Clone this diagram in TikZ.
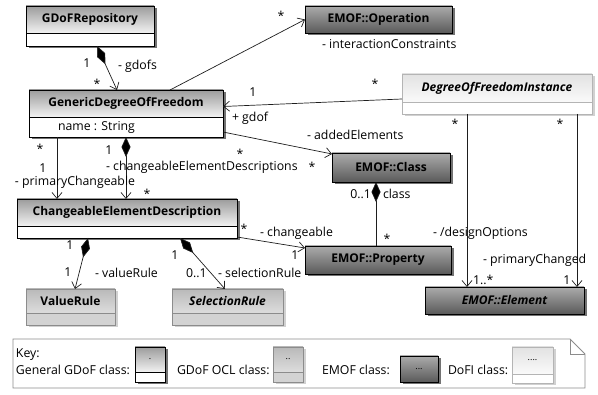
\documentclass[tikz,border=0pt]{standalone}
\usepackage{fontspec}
\setmainfont{Open Sans}
\usetikzlibrary{arrows.meta,shadows}

\definecolor{genTop}{HTML}{9C9C9C}
\definecolor{genBot}{HTML}{F2F2F2}
\definecolor{emofTop}{HTML}{ABABAB}
\definecolor{emofBot}{HTML}{5A5A5A}
\definecolor{oclTop}{HTML}{B9B9B9}
\definecolor{oclBot}{HTML}{DDDDDD}
\definecolor{oclComp}{HTML}{D3D3D3}
\definecolor{oclLine}{HTML}{8C8C8C}
\definecolor{dofiTop}{HTML}{E2E2E2}
\definecolor{dofiBot}{HTML}{FAFAFA}
\definecolor{dofiLine}{HTML}{B4B4B4}
\definecolor{keyLine}{HTML}{8C8C8C}
\definecolor{wire}{HTML}{1E1E1E}

\tikzset{
  every node/.style={inner sep=0pt, outer sep=0pt},
  txt/.style={font=\fontsize{12}{14}\selectfont},
  cname/.style={font=\fontsize{12}{14}\selectfont\bfseries},
  iname/.style={font=\fontsize{12}{14}\selectfont\bfseries\itshape},
  darkshadow/.style={drop shadow={shadow xshift=2.5pt, shadow yshift=-2.5pt, fill=black!55, opacity=1}},
  lightshadow/.style={drop shadow={shadow xshift=2.5pt, shadow yshift=-2.5pt, fill=black!18, opacity=1}},
  boxbase/.style={anchor=north west, line width=0.8pt},
  genhead/.style={boxbase, cname, draw=black, top color=genTop, bottom color=genBot, darkshadow},
  gencomp/.style={boxbase, draw=black, fill=white, darkshadow},
  emofhead/.style={boxbase, cname, draw=black, top color=emofTop, bottom color=emofBot, darkshadow},
  oclhead/.style={boxbase, cname, draw=oclLine, top color=oclTop, bottom color=oclBot, lightshadow},
  oclcomp/.style={boxbase, draw=oclLine, fill=oclComp, lightshadow},
  dofihead/.style={boxbase, iname, draw=dofiLine, top color=dofiTop, bottom color=dofiBot, lightshadow},
  doficomp/.style={boxbase, draw=dofiLine, fill=white, lightshadow},
  assoc/.style={draw=wire, line width=0.7pt, -{Straight Barb[length=6pt,width=10pt,line width=0.7pt]}},
  compo/.style={draw=wire, line width=0.7pt, {Diamond[length=20pt,width=9pt,fill=black]}-{Straight Barb[length=6pt,width=10pt,line width=0.7pt]}},
  compoplain/.style={draw=wire, line width=0.7pt, {Diamond[length=20pt,width=9pt,fill=black]}-},
  lab/.style={font=\fontsize{12.3}{14}\selectfont},
  star/.style={lab},
}

\begin{document}
\begin{tikzpicture}[x=1pt, y=-1pt]
\useasboundingbox (0,0) rectangle (598,395);

% ---------- classes ----------
\node[genhead, minimum width=128pt, minimum height=27pt] (repo) at (26,6) {GDoFRepository};
\node[gencomp, minimum width=128pt, minimum height=13pt] (repoC) at (repo.south west) {};

\node[genhead, minimum width=194pt, minimum height=27pt] (gdof) at (29,90) {GenericDegreeOfFreedom};
\node[gencomp, minimum width=194pt, minimum height=20pt] (gdofC) at (gdof.south west) {};
\node[lab, anchor=west] (gdofAttr) at (58,127) {name : String};

\node[emofhead, minimum width=147pt, minimum height=27pt] (op) at (305,6) {EMOF::Operation};

\node[dofihead, minimum width=190pt, minimum height=28pt] (dofi) at (402,74) {DegreeOfFreedomInstance};
\node[doficomp, minimum width=190pt, minimum height=12pt] (dofiC) at (dofi.south west) {};

\node[emofhead, minimum width=118pt, minimum height=29pt] (cls) at (332,153) {EMOF::Class};

\node[genhead, minimum width=220pt, minimum height=27pt] (ced) at (17,199) {ChangeableElementDescription};
\node[gencomp, minimum width=220pt, minimum height=12pt] (cedC) at (ced.south west) {};

\node[emofhead, minimum width=146pt, minimum height=28pt] (prop) at (305,246) {EMOF::Property};

\node[oclhead, minimum width=89pt, minimum height=24pt] (vr) at (26,289) {ValueRule};
\node[oclcomp, minimum width=89pt, minimum height=12pt] (vrC) at (vr.south west) {};

\node[oclhead, iname, minimum width=111pt, minimum height=24pt] (sr) at (172,289) {SelectionRule};
\node[oclcomp, minimum width=111pt, minimum height=12pt] (srC) at (sr.south west) {};

\node[emofhead, iname, minimum width=159pt, minimum height=27pt] (elem) at (425,287) {EMOF::Element};

% ---------- connectors ----------
\draw[compo] ([xshift=71pt]repoC.south west) -- ([xshift=88pt]gdof.north west);
\draw[assoc] ([xshift=141pt]gdof.north west) -- (op.west);
\draw[assoc] ([yshift=3pt]dofi.south west) -- ([yshift=-3pt]gdof.east);
\draw[assoc] ([yshift=-5pt]gdofC.east) -- ([yshift=-1pt]cls.north west);
\draw[compoplain] ([xshift=44pt]cls.south west) -- ([xshift=71pt]prop.north west);
\draw[assoc] ([xshift=28pt]gdofC.south west) -- ([xshift=40pt]ced.north west);
\draw[compo] ([xshift=97pt]gdofC.south west) -- ([xshift=109pt]ced.north west);
\draw[assoc] ([yshift=1pt]cedC.south east) -- ([yshift=-2pt]prop.north west);
\draw[compo] ([xshift=71pt]cedC.south west) -- ([xshift=49pt]vr.north west);
\draw[compo] ([xshift=163pt]cedC.south west) -- ([xshift=53pt]sr.north west);
\draw[assoc] ([xshift=65pt]dofiC.south west) -- ([xshift=42pt]elem.north west);
\draw[assoc] ([xshift=175pt]dofiC.south west) -- ([xshift=152pt]elem.north west);

% ---------- association end labels ----------
\node[lab] (m1) at (87,63) {1};
\node[lab, anchor=west] (r1) at (118,66) {- gdofs};
\node[star] (m2) at (97,84) {*};

\node[star] (m3) at (281,16) {*};
\node[lab, anchor=west] (r2) at (322,44) {- interactionConstraints};

\node[lab] (m4) at (253,92) {1};
\node[lab, anchor=west] (r3) at (232,118) {+ gdof};
\node[star] (m5) at (375,84) {*};

\node[lab, anchor=west] (r4) at (307,135) {- addedElements};
\node[star] (m6) at (240,154) {*};
\node[star] (m7) at (312,167) {*};

\node[lab, anchor=east] (m8) at (371,194) {0..1};
\node[lab, anchor=west] (r5) at (383,194) {class};
\node[star] (m9) at (387,239) {*};

\node[star] (m10) at (40,149) {*};
\node[lab] (m11) at (43,168) {1};
\node[lab, anchor=west] (r6) at (15,182) {- primaryChangeable};

\node[lab] (m12) at (109,150) {1};
\node[lab, anchor=west] (r7) at (106,167) {- changeableElementDescriptions};
\node[star] (m13) at (147,194) {*};

\node[star] (m14) at (244,229) {*};
\node[lab, anchor=west] (r8) at (260,233) {- changeable};
\node[lab] (m15) at (295,255) {1};

\node[lab] (m16) at (70,245) {1};
\node[lab] (m17) at (68,272) {1};
\node[lab, anchor=west] (r9) at (95,273) {- valueRule};

\node[lab] (m18) at (175,255) {1};
\node[lab, anchor=west] (m19) at (186,273) {0..1};
\node[lab, anchor=west] (r10) at (218,273) {- selectionRule};

\node[star] (m20) at (455,124) {*};
\node[lab, anchor=west] (r11) at (433,233) {- /designOptions};
\node[lab, anchor=west] (m21) at (473,280) {1..*};

\node[star] (m22) at (560,124) {*};
\node[lab, anchor=west] (r12) at (483,260) {- primaryChanged};
\node[lab] (m23) at (567,280) {1};

% ---------- key ----------
\draw[draw=keyLine, line width=0.8pt, fill=white]
  (13,339) -- (570,339) -- (585,354) -- (585,388) -- (13,388) -- cycle;
\draw[draw=keyLine, line width=0.8pt] (570,339) -- (570,354) -- (585,354);

\node[lab, anchor=west] (k0) at (16,355) {Key:};
\node[lab, anchor=west] (k1) at (16,370) {General GDoF class:};
\node[genhead, font=\fontsize{9}{10}\selectfont, minimum width=30pt, minimum height=25pt] (kg) at (135,347) {.};
\node[gencomp, minimum width=30pt, minimum height=10pt] (kgC) at (kg.south west) {};

\node[lab, anchor=west] (k2) at (177,370) {GDoF OCL class:};
\node[oclhead, font=\fontsize{9}{10}\selectfont, minimum width=30pt, minimum height=25pt] (ko) at (273,347) {..};
\node[oclcomp, minimum width=30pt, minimum height=10pt] (koC) at (ko.south west) {};

\node[lab, anchor=west] (k3) at (322,370) {EMOF class:};
\node[emofhead, font=\fontsize{9}{10}\selectfont, minimum width=38pt, minimum height=26pt] (ke) at (400,356) {...};

\node[lab, anchor=west] (k4) at (448,370) {DoFI class:};
\node[dofihead, font=\fontsize{9}{10}\selectfont, minimum width=41pt, minimum height=27pt] (kd) at (512,347) {....};
\node[doficomp, minimum width=41pt, minimum height=9pt] (kdC) at (kd.south west) {};
\end{tikzpicture}
\end{document}
